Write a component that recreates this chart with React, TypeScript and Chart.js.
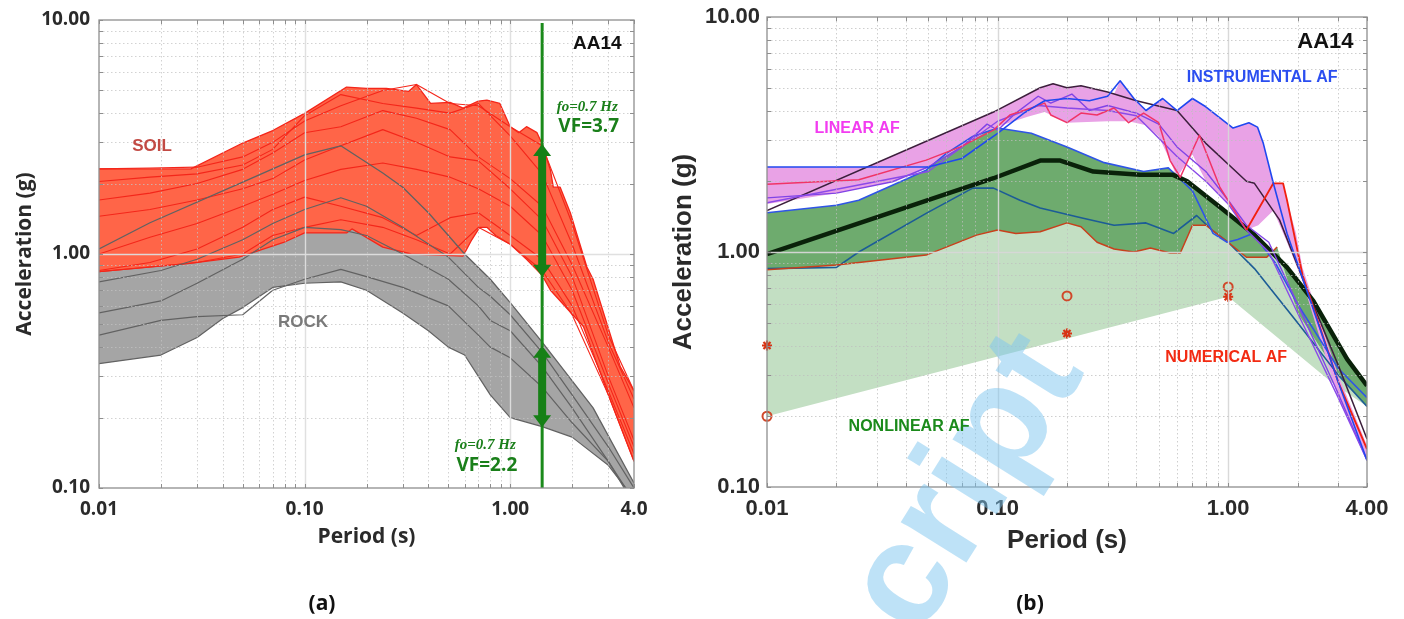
import React, { useEffect, useRef } from "react";
import { Chart, registerables } from "chart.js";

Chart.register(...registerables);

// ================= Panel (a) data =================
const SOIL_UPPER_T = [0.01, 0.028, 0.05, 0.07, 0.1, 0.16, 0.2, 0.25, 0.32, 0.35, 0.41, 0.51, 0.59, 0.7, 0.77, 0.89, 1.0, 1.1, 1.2, 1.35, 1.43, 1.57, 1.62, 1.75, 1.96, 2.36, 2.53, 3.43, 4.0];
const SOIL_UPPER_A = [2.31, 2.31, 2.98, 3.37, 3.99, 5.17, 5.1, 5.1, 4.95, 5.3, 4.4, 4.45, 4.2, 4.5, 4.55, 4.4, 3.5, 3.3, 3.5, 3.3, 2.95, 2.28, 1.93, 1.93, 1.5, 0.88, 0.78, 0.33, 0.26];
const SOIL_LOWER_T = [0.01, 0.027, 0.048, 0.079, 0.1, 0.16, 0.17, 0.24, 0.33, 0.45, 0.59, 0.65, 0.71, 0.77, 0.85, 1.0, 1.2, 1.43, 1.57, 2.27, 3.0, 4.0];
const SOIL_LOWER_A = [0.84, 0.91, 0.97, 1.12, 1.23, 1.23, 1.28, 1.07, 1.0, 0.99, 0.98, 1.15, 1.3, 1.3, 1.2, 1.1, 0.95, 0.81, 0.7, 0.49, 0.25, 0.13];

const SOIL_LINE_T = [0.01, 0.0177, 0.03, 0.05, 0.07, 0.1, 0.15, 0.24, 0.35, 0.51, 0.7, 1.0, 1.43, 2, 3, 4];
const SOIL_REC_1 = [2.31, 2.33, 2.35, 2.6, 3.0, 3.7, 4.3, 5.0, 5.3, 4.4, 4.3, 3.5, 2.9, 1.35, 0.45, 0.26];
const SOIL_REC_2 = [2.04, 2.13, 2.2, 2.4, 2.8, 3.9, 4.8, 4.4, 4.2, 4.0, 4.4, 3.2, 2.2, 1.1, 0.42, 0.24];
const SOIL_REC_3 = [1.7, 1.82, 2.0, 2.3, 2.7, 3.3, 3.5, 4.1, 3.8, 3.4, 2.6, 2.1, 1.6, 0.9, 0.4, 0.22];
const SOIL_REC_4 = [1.45, 1.55, 1.7, 1.9, 2.1, 2.52, 2.9, 3.4, 3.0, 2.6, 2.5, 1.9, 1.4, 0.8, 0.3, 0.16];
const SOIL_REC_5 = [1.0, 1.18, 1.35, 1.6, 1.8, 2.06, 2.3, 2.45, 2.3, 2.13, 1.9, 1.6, 1.2, 0.7, 0.28, 0.15];
const SOIL_REC_6 = [0.85, 0.92, 1.05, 1.3, 1.55, 1.75, 1.6, 1.43, 1.2, 1.43, 1.5, 1.2, 0.95, 0.6, 0.26, 0.14];
const SOIL_REC_7 = [0.84, 0.88, 0.92, 1.0, 1.2, 1.3, 1.4, 1.3, 1.15, 1.0, 1.3, 1.1, 0.85, 0.55, 0.25, 0.13];

const ROCK_UPPER_T = [0.01, 0.0177, 0.05, 0.1, 0.15, 0.24, 0.3, 0.4, 0.6, 0.8, 1.0, 1.43, 2.53, 4.0];
const ROCK_UPPER_A = [1.05, 1.36, 2.03, 2.65, 2.9, 2.22, 1.93, 1.5, 1.0, 0.78, 0.62, 0.42, 0.22, 0.105];
const ROCK_LOWER_T = [0.01, 0.02, 0.03, 0.04, 0.05, 0.07, 0.1, 0.15, 0.2, 0.3, 0.4, 0.5, 0.6, 0.7, 0.8, 1.0, 1.43, 2.0, 3.0, 4.0];
const ROCK_LOWER_A = [0.34, 0.37, 0.44, 0.53, 0.59, 0.72, 0.75, 0.76, 0.7, 0.56, 0.47, 0.4, 0.37, 0.3, 0.25, 0.2, 0.183, 0.165, 0.125, 0.09];

const ROCK_LINE_T = [0.01, 0.02, 0.03, 0.05, 0.07, 0.1, 0.15, 0.2, 0.3, 0.5, 0.7, 0.8, 1.0, 1.43, 2, 3, 4];
const ROCK_REC_2 = [0.76, 0.85, 0.95, 1.15, 1.35, 1.55, 1.74, 1.6, 1.3, 0.97, 0.72, 0.66, 0.55, 0.38, 0.25, 0.15, 0.1];
const ROCK_REC_3 = [0.56, 0.63, 0.75, 0.95, 1.15, 1.3, 1.27, 1.2, 1.0, 0.78, 0.6, 0.52, 0.47, 0.33, 0.22, 0.13, 0.085];
const ROCK_REC_4 = [0.45, 0.52, 0.54, 0.55, 0.7, 0.78, 0.86, 0.8, 0.72, 0.6, 0.45, 0.4, 0.36, 0.27, 0.19, 0.13, 0.088];

const FO_PERIOD = 1.43; // 1 / 0.7 Hz
const FO_LINE_A = [0.1, 9.7];
const SOIL_VF_RANGE = [2.95, 0.8];
const ROCK_VF_RANGE = [0.405, 0.182];

// ================= Panel (b) data =================
const LIN_UPPER_T = [0.01, 0.027, 0.05, 0.07, 0.096, 0.153, 0.174, 0.2, 0.23, 0.32, 0.34, 0.39, 0.44, 0.52, 0.6, 0.7, 0.8, 1.05, 1.23, 1.34, 1.42, 1.57, 1.73, 1.8, 1.97, 2.1, 3.0, 4.0];
const LIN_UPPER_A = [2.3, 2.3, 2.98, 3.44, 3.94, 5.0, 5.2, 5.0, 5.1, 4.7, 5.35, 4.5, 4.0, 4.5, 4.0, 4.5, 4.15, 3.37, 3.55, 3.4, 2.9, 1.96, 1.96, 1.66, 1.2, 0.86, 0.3, 0.15];
const LIN_LOWER_T = [0.01, 0.02, 0.035, 0.049, 0.069, 0.096, 0.135, 0.16, 0.2, 0.3, 0.37, 0.44, 0.5, 0.56, 0.6, 0.7, 0.8, 0.95, 1.1, 1.2, 1.35, 1.57, 1.8, 2.1, 3.0, 4.0];
const LIN_LOWER_A = [1.6, 1.78, 1.99, 2.27, 2.8, 3.37, 3.76, 3.94, 3.55, 3.6, 3.6, 3.46, 3.1, 2.45, 2.08, 2.6, 2.0, 1.7, 1.4, 1.24, 1.3, 1.5, 1.1, 0.75, 0.24, 0.13];

const INST_BLUE_T = [0.01, 0.05, 0.07, 0.1, 0.13, 0.16, 0.2, 0.25, 0.3, 0.34, 0.39, 0.44, 0.52, 0.6, 0.7, 0.8, 1.05, 1.23, 1.34, 1.42, 1.57, 1.8, 2.3, 3.0, 4.0];
const INST_BLUE_A = [2.3, 2.3, 2.5, 3.2, 3.9, 4.4, 4.5, 4.4, 4.6, 5.35, 4.5, 4.0, 4.5, 4.0, 4.5, 4.15, 3.37, 3.55, 3.4, 2.9, 1.96, 1.2, 0.6, 0.28, 0.13];
const LIN_TOP_T = [0.01, 0.096, 0.153, 0.174, 0.2, 0.23, 0.3, 0.4, 0.6, 0.8, 1.2, 1.3, 1.67, 2.2, 3.0, 4.0];
const LIN_TOP_A = [1.5, 3.94, 5.0, 5.2, 5.0, 5.1, 4.8, 4.4, 4.0, 2.9, 2.0, 1.96, 1.37, 0.69, 0.33, 0.16];
const VIOLET_1_T = [0.01, 0.02, 0.035, 0.05, 0.07, 0.09, 0.1, 0.12, 0.15, 0.17, 0.21, 0.25, 0.3, 0.4, 0.5, 0.6, 0.8, 1.0, 1.2, 1.5, 2, 3, 4];
const VIOLET_1_A = [1.7, 1.78, 1.99, 2.3, 2.8, 3.5, 3.3, 3.9, 4.6, 4.3, 4.7, 4.0, 4.2, 3.9, 3.5, 2.8, 2.2, 1.66, 1.3, 1.1, 0.6, 0.25, 0.13];
const VIOLET_2_T = [0.01, 0.05, 0.1, 0.15, 0.2, 0.3, 0.4, 0.6, 0.8, 1.0, 1.2, 1.5, 2, 3, 4];
const VIOLET_2_A = [1.62, 2.2, 3.6, 4.2, 4.1, 4.0, 3.8, 2.55, 2.0, 1.6, 1.24, 1.0, 0.55, 0.24, 0.13];
const LIN_RED_T = [0.01, 0.025, 0.049, 0.069, 0.096, 0.113, 0.14, 0.16, 0.17, 0.2, 0.23, 0.27, 0.32, 0.37, 0.43, 0.5, 0.56, 0.62, 0.75, 0.92, 1.2];
const LIN_RED_A = [1.94, 2.03, 2.46, 2.8, 3.3, 3.83, 4.1, 4.3, 3.83, 3.55, 3.9, 3.83, 4.1, 3.55, 3.9, 3.55, 2.45, 2.08, 3.14, 1.89, 1.24];
const NUM_RED_T = [1.2, 1.57, 1.73, 1.8, 2.1, 3.0, 4.0];
const NUM_RED_A = [1.24, 1.96, 1.96, 1.66, 0.8, 0.28, 0.145];

const NL_UPPER_T = [0.01, 0.02, 0.025, 0.049, 0.06, 0.078, 0.1, 0.14, 0.2, 0.29, 0.43, 0.55, 0.6, 0.7, 0.86, 0.99, 1.1, 1.28, 1.6, 2.0, 3.0, 4.0];
const NL_UPPER_A = [1.47, 1.58, 1.66, 2.23, 2.63, 3.1, 3.37, 3.2, 2.8, 2.4, 2.2, 2.28, 2.1, 1.82, 1.2, 1.1, 1.13, 1.2, 0.9, 0.6, 0.32, 0.24];
const NL_MID_T = [0.01, 0.02, 0.025, 0.049, 0.078, 0.096, 0.125, 0.153, 0.23, 0.32, 0.44, 0.58, 0.73, 0.85, 1.0, 1.3, 2.0, 3.0, 4.0];
const NL_MID_A = [0.85, 0.86, 1.0, 1.46, 1.87, 1.87, 1.66, 1.54, 1.4, 1.3, 1.33, 1.2, 1.43, 1.24, 1.1, 0.85, 0.5, 0.3, 0.22];
const NL_LOWER_T = [0.01, 0.02, 0.049, 0.081, 0.1, 0.12, 0.153, 0.2, 0.23, 0.27, 0.32, 0.39, 0.46, 0.56, 0.62, 0.7, 0.8, 1.0, 1.2, 1.47, 1.63];
const NL_LOWER_A = [0.84, 0.88, 0.97, 1.18, 1.24, 1.2, 1.22, 1.33, 1.28, 1.1, 1.03, 1.0, 1.04, 0.99, 0.99, 1.3, 1.3, 1.1, 0.95, 0.95, 1.05];
const NL_MEAN_T = [0.01, 0.096, 0.153, 0.187, 0.26, 0.415, 0.577, 0.664, 0.923, 1.28, 1.8, 2.34, 3.28, 4.0];
const NL_MEAN_A = [0.98, 2.06, 2.45, 2.45, 2.2, 2.13, 2.13, 2.0, 1.55, 1.2, 0.86, 0.62, 0.35, 0.27];

const NL_BAND_TOP_T = [0.01, 0.02, 0.025, 0.049, 0.06, 0.078, 0.1, 0.14, 0.2, 0.29, 0.43, 0.55, 0.664, 0.923, 1.28, 1.8, 2.34, 3.28, 4.0];
const NL_BAND_TOP_A = [1.47, 1.58, 1.66, 2.23, 2.63, 3.1, 3.37, 3.2, 2.8, 2.4, 2.2, 2.28, 2.0, 1.55, 1.2, 0.86, 0.62, 0.35, 0.27];
const NL_BAND_TAIL_T = [2.0, 3.0, 4.0];
const NL_BAND_TAIL_A = [0.55, 0.3, 0.22];
const NONLIN_FLOOR_T = [0.01, 1.0, 2.8, 4.0];
const NONLIN_FLOOR_A = [0.2, 0.645, 0.28, 0.22];

const CIRCLE_T = [0.01, 0.2, 1.0];
const CIRCLE_A = [0.2, 0.65, 0.71];
const STAR_T = [0.01, 0.2, 1.0];
const STAR_A = [0.4, 0.45, 0.645];

// ================= Axes =================
const X_TICKS = [0.01, 0.02, 0.03, 0.04, 0.05, 0.06, 0.07, 0.08, 0.09, 0.1, 0.2, 0.3, 0.4, 0.5, 0.6, 0.7, 0.8, 0.9, 1, 2, 3, 4];
const Y_TICKS = [0.1, 0.2, 0.3, 0.4, 0.5, 0.6, 0.7, 0.8, 0.9, 1, 2, 3, 4, 5, 6, 7, 8, 9, 10];
const X_LABELS_A: [number, string][] = [[0.01, "0.01"], [0.1, "0.10"], [1, "1.00"], [4, "4.0"]];
const X_LABELS_B: [number, string][] = [[0.01, "0.01"], [0.1, "0.10"], [1, "1.00"], [4, "4.00"]];
const Y_LABELS: [number, string][] = [[0.1, "0.10"], [1, "1.00"], [10, "10.00"]];

const FONT_A = "'Open Sans', sans-serif";
const FONT_B = "'Liberation Sans', Arial, sans-serif";
const AXIS_TEXT = "#2a2a2a";

// ================= helpers =================
const pts = (t: number[], a: number[]) => t.map((x, i) => ({ x, y: a[i] }));
const band = (tu: number[], au: number[], tl: number[], al: number[]) => [...pts(tu, au), ...pts(tl, al).reverse()];

const fillDs = (data: any[], color: string) => ({
  data, fill: "shape", backgroundColor: color, borderColor: "rgba(0,0,0,0)", borderWidth: 0.01, pointRadius: 0,
});
const lineDs = (data: any[], color: string, width = 1.2) => ({
  data, fill: false, borderColor: color, borderWidth: width, pointRadius: 0, borderJoinStyle: "round",
});

const labelFor = (pairs: [number, string][]) => (v: any) => {
  const n = Number(v);
  for (const [k, s] of pairs) if (Math.abs(n - k) / k < 1e-6) return s;
  return "";
};

function xAxis(o: any) {
  return {
    type: "logarithmic", position: "bottom", min: 0.01, max: 4,
    afterBuildTicks: (s: any) => { s.ticks = X_TICKS.map((v) => ({ value: v })); },
    afterFit: (s: any) => { s.height = o.height; s.paddingLeft = 0; s.paddingRight = 0; },
    grid: { display: false, drawTicks: false }, border: { display: false },
    ticks: { autoSkip: false, maxRotation: 0, minRotation: 0, padding: o.pad, font: o.font, color: AXIS_TEXT, callback: labelFor(o.labels) },
    title: { display: true, text: "Period (s)", font: o.titleFont, color: AXIS_TEXT, padding: { top: 0, bottom: o.titlePad } },
  };
}
function yAxis(o: any) {
  return {
    type: "logarithmic", position: "left", min: 0.1, max: 10,
    afterBuildTicks: (s: any) => { s.ticks = Y_TICKS.map((v) => ({ value: v })); },
    afterFit: (s: any) => { s.width = o.width; s.paddingTop = 0; s.paddingBottom = 0; },
    grid: { display: false, drawTicks: false }, border: { display: false },
    ticks: { autoSkip: false, padding: o.pad, font: o.font, color: AXIS_TEXT, callback: labelFor(Y_LABELS) },
    title: { display: true, text: "Acceleration (g)", font: o.titleFont, color: AXIS_TEXT, padding: { top: o.titlePad, bottom: 0 } },
  };
}

const isMajor = (v: number) => Math.abs(Math.log10(v) - Math.round(Math.log10(v))) < 1e-6;

function gridPlugin(minor: string, major: string, frame: string) {
  return {
    id: "gridFrame",
    afterDatasetsDraw(chart: any) {
      const { ctx, chartArea: ca } = chart;
      const xs = chart.scales.x, ys = chart.scales.y;
      ctx.save();
      ctx.beginPath();
      ctx.rect(ca.left, ca.top, ca.right - ca.left, ca.bottom - ca.top);
      ctx.clip();
      const seg = (x1: number, y1: number, x2: number, y2: number, mj: boolean) => {
        ctx.beginPath();
        ctx.setLineDash(mj ? [] : [1.5, 2.5]);
        ctx.strokeStyle = mj ? major : minor;
        ctx.lineWidth = mj ? 1.4 : 1;
        ctx.moveTo(x1, y1); ctx.lineTo(x2, y2); ctx.stroke();
      };
      for (const t of xs.ticks) {
        if (t.value <= 0.01 || t.value >= 4) continue;
        const p = Math.round(xs.getPixelForValue(t.value)) + 0.5;
        seg(p, ca.top, p, ca.bottom, isMajor(t.value));
      }
      for (const t of ys.ticks) {
        if (t.value <= 0.1 || t.value >= 10) continue;
        const p = Math.round(ys.getPixelForValue(t.value)) + 0.5;
        seg(ca.left, p, ca.right, p, isMajor(t.value));
      }
      ctx.restore();
      ctx.save();
      ctx.setLineDash([]);
      ctx.strokeStyle = frame;
      ctx.lineWidth = 1.3;
      ctx.strokeRect(ca.left, ca.top, ca.right - ca.left, ca.bottom - ca.top);
      ctx.lineWidth = 1;
      ctx.beginPath();
      for (const t of xs.ticks) {
        const p = Math.round(xs.getPixelForValue(t.value)) + 0.5;
        ctx.moveTo(p, ca.bottom); ctx.lineTo(p, ca.bottom - 4);
        ctx.moveTo(p, ca.top); ctx.lineTo(p, ca.top + 4);
      }
      for (const t of ys.ticks) {
        const p = Math.round(ys.getPixelForValue(t.value)) + 0.5;
        ctx.moveTo(ca.left, p); ctx.lineTo(ca.left + 4, p);
        ctx.moveTo(ca.right, p); ctx.lineTo(ca.right - 4, p);
      }
      ctx.stroke();
      ctx.restore();
    },
  };
}

type TextItem = { text: string; t?: number; a?: number; x?: number; y?: number; font: string; color: string };
function textPlugin(items: TextItem[]) {
  return {
    id: "texts",
    afterDraw(chart: any) {
      const { ctx } = chart;
      const xs = chart.scales.x, ys = chart.scales.y;
      ctx.save();
      ctx.textAlign = "center";
      ctx.textBaseline = "middle";
      for (const it of items) {
        const px = it.t !== undefined ? xs.getPixelForValue(it.t) : it.x!;
        const py = it.a !== undefined ? ys.getPixelForValue(it.a) : it.y!;
        ctx.font = it.font;
        ctx.fillStyle = it.color;
        ctx.fillText(it.text, px, py);
      }
      ctx.restore();
    },
  };
}

function arrowPlugin(period: number, ranges: number[][], color: string) {
  return {
    id: "vfArrows",
    afterDraw(chart: any) {
      const { ctx } = chart;
      const px = chart.scales.x.getPixelForValue(period);
      const ys = chart.scales.y;
      ctx.save();
      ctx.fillStyle = color;
      ctx.strokeStyle = color;
      for (const [hi, lo] of ranges) {
        const yTop = ys.getPixelForValue(hi), yBot = ys.getPixelForValue(lo);
        const hl = 12, hw = 9;
        ctx.lineWidth = 8;
        ctx.beginPath(); ctx.moveTo(px, yTop + hl - 1); ctx.lineTo(px, yBot - hl + 1); ctx.stroke();
        ctx.beginPath(); ctx.moveTo(px, yTop); ctx.lineTo(px - hw, yTop + hl); ctx.lineTo(px + hw, yTop + hl); ctx.closePath(); ctx.fill();
        ctx.beginPath(); ctx.moveTo(px, yBot); ctx.lineTo(px - hw, yBot - hl); ctx.lineTo(px + hw, yBot - hl); ctx.closePath(); ctx.fill();
      }
      ctx.restore();
    },
  };
}

const watermarkPlugin = {
  id: "watermark",
  afterDatasetsDraw(chart: any) {
    const { ctx } = chart;
    ctx.save();
    ctx.translate(258, 640);
    ctx.rotate((-58 * Math.PI) / 180);
    ctx.font = "bold 146px 'Liberation Sans', Arial, sans-serif";
    ctx.fillStyle = "rgba(125,198,240,0.5)";
    ctx.textBaseline = "alphabetic";
    ctx.fillText("cript", 0, 0);
    ctx.restore();
  },
};

const baseOptions = (padding: any) => ({
  responsive: false,
  maintainAspectRatio: false,
  animation: false,
  events: [],
  layout: { padding },
  plugins: { legend: { display: false }, tooltip: { enabled: false } },
  elements: { line: { tension: 0 }, point: { radius: 0 } },
});

const ordered = (list: any[]) => list.map((d, i) => ({ ...d, order: -i }));

function configA() {
  const SOIL_RED = "#f4261a";
  const GRAY_LINE = "#626262";
  const datasets = ordered([
    fillDs(band(ROCK_UPPER_T, ROCK_UPPER_A, ROCK_LOWER_T, ROCK_LOWER_A), "#a5a5a5"),
    fillDs(band(SOIL_UPPER_T, SOIL_UPPER_A, SOIL_LOWER_T, SOIL_LOWER_A), "#ff6548"),
    lineDs(pts(SOIL_UPPER_T, SOIL_UPPER_A), SOIL_RED, 1.3),
    lineDs(pts(SOIL_LOWER_T, SOIL_LOWER_A), SOIL_RED, 1.3),
    lineDs(pts(SOIL_LINE_T, SOIL_REC_1), SOIL_RED, 1.1),
    lineDs(pts(SOIL_LINE_T, SOIL_REC_2), SOIL_RED, 1.1),
    lineDs(pts(SOIL_LINE_T, SOIL_REC_3), SOIL_RED, 1.1),
    lineDs(pts(SOIL_LINE_T, SOIL_REC_4), SOIL_RED, 1.1),
    lineDs(pts(SOIL_LINE_T, SOIL_REC_5), SOIL_RED, 1.1),
    lineDs(pts(SOIL_LINE_T, SOIL_REC_6), SOIL_RED, 1.1),
    lineDs(pts(SOIL_LINE_T, SOIL_REC_7), SOIL_RED, 1.1),
    lineDs(pts(ROCK_UPPER_T, ROCK_UPPER_A), GRAY_LINE, 1.3),
    lineDs(pts(ROCK_LOWER_T, ROCK_LOWER_A), GRAY_LINE, 1.2),
    lineDs(pts(ROCK_LINE_T, ROCK_REC_2), GRAY_LINE, 1.2),
    lineDs(pts(ROCK_LINE_T, ROCK_REC_3), GRAY_LINE, 1.2),
    lineDs(pts(ROCK_LINE_T, ROCK_REC_4), GRAY_LINE, 1.2),
    lineDs(FO_LINE_A.map((a) => ({ x: FO_PERIOD, y: a })), "#1b8a1b", 3),
  ]);
  const tf = (s: number) => ({ family: FONT_A, size: s, weight: "bold" });
  const GREEN = "#1a7f1a";
  return {
    type: "line",
    data: { datasets },
    options: {
      ...baseOptions({ top: 20, right: 26, left: 0, bottom: 0 }),
      scales: {
        x: xAxis({ height: 131, pad: 10, font: tf(19), labels: X_LABELS_A, titleFont: tf(21), titlePad: 69 }),
        y: yAxis({ width: 99, pad: 9, font: tf(19), titleFont: tf(21), titlePad: 12 }),
      },
    },
    plugins: [
      gridPlugin("rgba(195,195,195,0.75)", "rgba(222,222,222,0.95)", "#8e8e8e"),
      arrowPlugin(FO_PERIOD, [SOIL_VF_RANGE, ROCK_VF_RANGE], "#168016"),
      textPlugin([
        { text: "SOIL", t: 0.0181, a: 2.89, font: `bold 17px ${FONT_B}`, color: "#c24a44" },
        { text: "ROCK", t: 0.0983, a: 0.513, font: `bold 17px ${FONT_B}`, color: "#7a7a7a" },
        { text: "AA14", t: 2.65, a: 7.89, font: `bold 19px ${FONT_B}`, color: "#111" },
        { text: "fo=0.7 Hz", t: 2.37, a: 4.25, font: "italic bold 15px 'Liberation Serif', serif", color: GREEN },
        { text: "VF=3.7", t: 2.41, a: 3.49, font: `bold 19px ${FONT_A}`, color: GREEN },
        { text: "fo=0.7 Hz", t: 0.756, a: 0.153, font: "italic bold 15px 'Liberation Serif', serif", color: GREEN },
        { text: "VF=2.2", t: 0.77, a: 0.125, font: `bold 19px ${FONT_A}`, color: GREEN },
        { text: "(a)", x: 322, y: 604, font: `bold 21px ${FONT_A}`, color: "#111" },
      ]),
    ],
  };
}

function configB() {
  const datasets = ordered([
    fillDs(band([...NL_LOWER_T, ...NL_BAND_TAIL_T], [...NL_LOWER_A, ...NL_BAND_TAIL_A], NONLIN_FLOOR_T, NONLIN_FLOOR_A), "#c3dfc3"),
    fillDs(band(NL_BAND_TOP_T, NL_BAND_TOP_A, [...NL_LOWER_T, ...NL_BAND_TAIL_T], [...NL_LOWER_A, ...NL_BAND_TAIL_A]), "#6eab6e"),
    fillDs(band(LIN_UPPER_T, LIN_UPPER_A, LIN_LOWER_T, LIN_LOWER_A), "#e9a2e6"),
    lineDs(pts(NL_MID_T, NL_MID_A), "#1c5c96", 1.6),
    lineDs(pts(NL_LOWER_T, NL_LOWER_A), "#c8401c", 1.5),
    lineDs(pts(NL_UPPER_T, NL_UPPER_A), "#2f55e6", 1.6),
    lineDs(pts(NL_MEAN_T, NL_MEAN_A), "#0a220a", 4.5),
    lineDs(pts(LIN_TOP_T, LIN_TOP_A), "#3c1f3c", 1.5),
    lineDs(pts(VIOLET_1_T, VIOLET_1_A), "#8044e6", 1.4),
    lineDs(pts(VIOLET_2_T, VIOLET_2_A), "#8a4ae8", 1.4),
    lineDs(pts(LIN_RED_T, LIN_RED_A), "#f03466", 1.5),
    lineDs(pts(NUM_RED_T, NUM_RED_A), "#f2200f", 1.8),
    lineDs(pts(INST_BLUE_T, INST_BLUE_A), "#2048f0", 1.6),
    {
      data: pts(CIRCLE_T, CIRCLE_A), showLine: false, pointStyle: "circle", pointRadius: 4.5,
      pointBorderColor: "#d0482a", pointBackgroundColor: "rgba(0,0,0,0)", pointBorderWidth: 2, clip: false,
    },
    {
      data: pts(STAR_T, STAR_A), showLine: false, pointStyle: "star", pointRadius: 5,
      pointBorderColor: "#d83414", pointBackgroundColor: "#d83414", pointBorderWidth: 2.2, clip: false,
    },
  ]);
  const tf = (s: number) => ({ family: FONT_B, size: s, weight: "bold" });
  return {
    type: "line",
    data: { datasets },
    options: {
      ...baseOptions({ top: 17, right: 37, left: 0, bottom: 0 }),
      scales: {
        x: xAxis({ height: 132, pad: 9, font: tf(22), labels: X_LABELS_B, titleFont: tf(26), titlePad: 63 }),
        y: yAxis({ width: 107, pad: 7, font: tf(22), titleFont: tf(26), titlePad: 8 }),
      },
    },
    plugins: [
      gridPlugin("rgba(190,190,190,0.75)", "rgba(215,215,215,0.95)", "#8e8e8e"),
      watermarkPlugin,
      textPlugin([
        { text: "AA14", t: 2.64, a: 7.83, font: `bold 22px ${FONT_B}`, color: "#111" },
        { text: "INSTRUMENTAL AF", t: 1.405, a: 5.5, font: `bold 16px ${FONT_B}`, color: "#2b4ef0" },
        { text: "LINEAR AF", t: 0.0246, a: 3.34, font: `bold 16px ${FONT_B}`, color: "#f23cf0" },
        { text: "NONLINEAR AF", t: 0.0413, a: 0.18, font: `bold 16px ${FONT_B}`, color: "#1b8a1b" },
        { text: "NUMERICAL AF", t: 0.98, a: 0.354, font: `bold 16px ${FONT_B}`, color: "#f22a12" },
        { text: "(b)", x: 370, y: 604, font: `bold 21px ${FONT_A}`, color: "#111" },
      ]),
    ],
  };
}

function ChartCanvas({ build, left, width }: { build: () => any; left: number; width: number }) {
  const ref = useRef<HTMLCanvasElement>(null);
  useEffect(() => {
    const chart = new Chart(ref.current as HTMLCanvasElement, build());
    return () => chart.destroy();
  }, [build]);
  return (
    <canvas
      ref={ref}
      width={width}
      height={619}
      style={{ position: "absolute", left, top: 0, width, height: 619 }}
    />
  );
}

export default function App() {
  return (
    <div style={{ position: "fixed", left: 0, top: 0, width: 1404, height: 619, background: "#fff", overflow: "hidden" }}>
      <ChartCanvas build={configA} left={0} width={660} />
      <ChartCanvas build={configB} left={660} width={744} />
    </div>
  );
}
